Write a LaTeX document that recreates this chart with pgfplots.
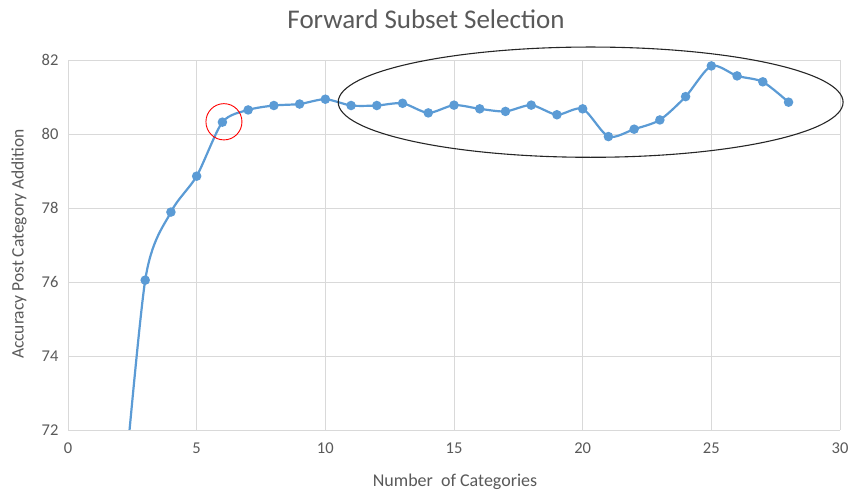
\documentclass[border=0pt]{standalone}
\usepackage{pgfplots}
\pgfplotsset{compat=1.18}
\usepackage{fontspec}
\setmainfont{Carlito}
\definecolor{txt}{RGB}{89,89,89}
\definecolor{grd}{RGB}{217,217,217}
\definecolor{ser}{RGB}{91,155,213}
\begin{document}
\begin{tikzpicture}[x=1pt,y=1pt]
\path[use as bounding box] (0,0) rectangle (853,492);
\begin{axis}[
  at={(68pt,62pt)}, anchor=south west,
  scale only axis, width=772pt, height=370pt,
  xmin=0, xmax=30, ymin=72, ymax=82,
  xtick={0,5,...,30}, ytick={72,74,...,82},
  grid=major, major grid style={grd, line width=0.9pt},
  axis line style={draw=none},
  major tick length=0pt,
  tick label style={font=\fontsize{16.5}{18}\selectfont, text=txt},
  /pgf/number format/assume math mode=true,
  xticklabel style={yshift=-9pt},
  yticklabel style={xshift=-6pt},
  clip=true,
]
\addplot[ser, line width=2.2pt, smooth, tension=0.45, mark=*, mark size=3.6pt, mark options={fill=ser, draw=ser}] coordinates {
(2,69.0) (3,76.05) (4,77.89) (5,78.86) (6,80.32) (7,80.65) (8,80.77) (9,80.81) (10,80.94)
(11,80.77) (12,80.77) (13,80.83) (14,80.57) (15,80.78) (16,80.68) (17,80.61) (18,80.78)
(19,80.52) (20,80.68) (21,79.93) (22,80.13) (23,80.38) (24,81.01) (25,81.84) (26,81.57)
(27,81.41) (28,80.86)
};
\end{axis}
\begin{axis}[
  at={(68pt,62pt)}, anchor=south west,
  scale only axis, width=772pt, height=370pt,
  xmin=0, xmax=30, ymin=72, ymax=82,
  hide axis, clip=false,
]
\draw[red, line width=0.9pt] (axis cs:6.06,80.33) ellipse [x radius=0.70, y radius=0.49];
\draw[black!85, line width=1.1pt] (axis cs:20.31,80.86) ellipse [x radius=9.81, y radius=1.49];
\end{axis}
\node[text=txt, font=\fontsize{27}{30}\selectfont] at (426,473) {Forward Subset Selection};
\node[text=txt, font=\fontsize{18}{20}\selectfont] at (455,10) {Number \ of Categories};
\node[text=txt, font=\fontsize{17.5}{20}\selectfont, rotate=90] at (19,248) {Accuracy Post Category Addition};
\end{tikzpicture}
\end{document}
